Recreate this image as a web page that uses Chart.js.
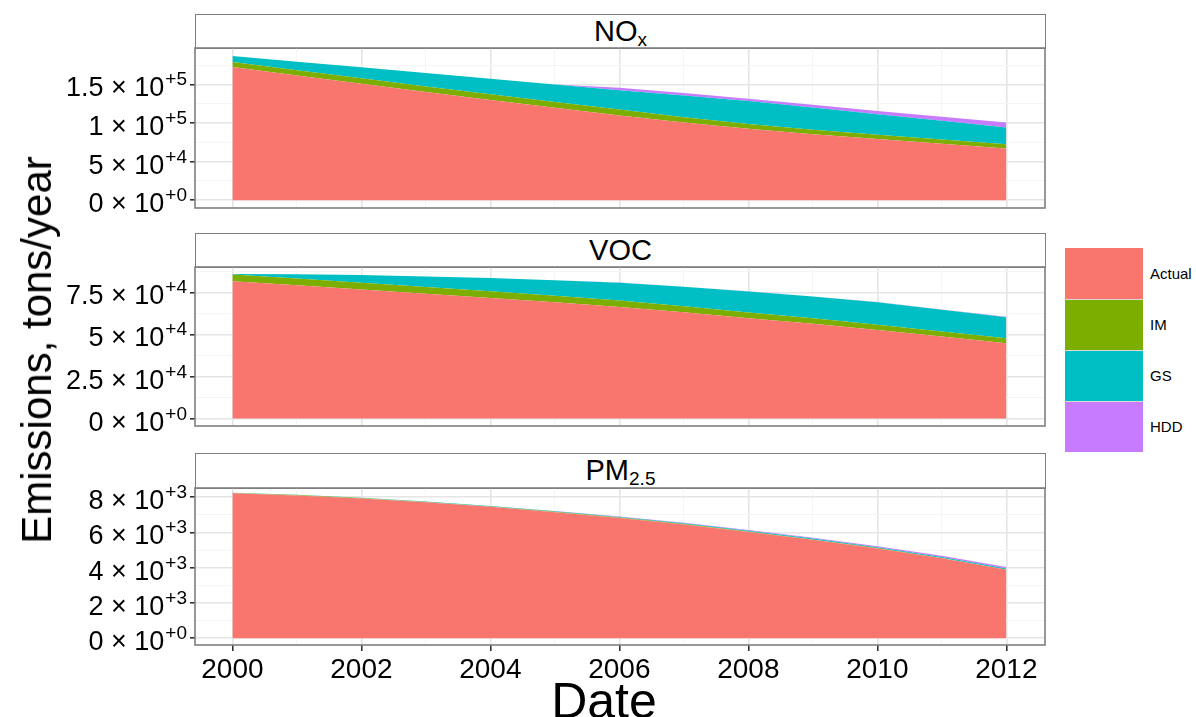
<!DOCTYPE html>
<html>
<head>
<meta charset="utf-8">
<script src="https://cdn.jsdelivr.net/npm/chart.js@4/dist/chart.umd.min.js"></script>
<style>
  html, body { margin:0; padding:0; background:#fff; }
  body { width:1196px; height:717px; position:relative; overflow:hidden; font-family:"Liberation Sans", Arial, sans-serif; }
  .wrap { position:absolute; left:0; }
  .strip { position:absolute; left:195px; width:851px; box-sizing:border-box; border:1.6px solid #7f7f7f; background:#fff;
           text-align:center; font-size:29px; color:#000; }
  .strip sub { font-size:19px; vertical-align:-5px; }
  #ytitle { position:absolute; left:37px; top:350px; transform:translate(-50%,-50%) rotate(-90deg); font-size:42px; white-space:nowrap; color:#000; }
  #xtitle { position:absolute; left:604px; top:676px; transform:translateX(-50%); font-size:50px; line-height:1; color:#000; }
  .key { position:absolute; left:1065px; width:78px; height:51px; }
  .klab { position:absolute; left:1150px; font-size:15px; color:#000; line-height:51px; height:51px; }
</style>
</head>
<body>
<div class="strip" style="top:14px;height:35px;line-height:32px;">NO<sub>x</sub></div>
<div class="strip" style="top:233px;height:35px;line-height:32px;">VOC</div>
<div class="strip" style="top:453px;height:36px;line-height:32px;">PM<sub>2.5</sub></div>

<div class="wrap" style="top:40px;"><canvas id="c1" width="1050" height="176"></canvas></div>
<div class="wrap" style="top:259px;"><canvas id="c2" width="1050" height="175"></canvas></div>
<div class="wrap" style="top:480px;"><canvas id="c3" width="1050" height="237"></canvas></div>

<div id="ytitle">Emissions, tons/year</div>
<div id="xtitle">Date</div>
<div id="legend"></div>

<script>
// ---------------- data ----------------
const years = [2000, 2001, 2002, 2003, 2004, 2005, 2006, 2007, 2008, 2009, 2010, 2011, 2012];
const seriesNames = ["Actual", "IM", "GS", "HDD"];
const seriesColors = ["#F8766D", "#7CAE00", "#00BFC4", "#C77CFF"];

const noxActual = [172600, 161700, 151000, 140300, 129800, 119600, 109600, 100500, 92400, 85500, 79300, 73000, 66800];
const noxIM     = [6500, 6700, 6900, 7100, 7300, 7500, 7800, 7000, 6200, 5800, 5600, 5600, 5700];
const noxGS     = [7800, 11100, 14200, 17300, 20200, 22800, 25100, 28100, 29800, 28700, 26500, 24200, 21500];
const noxHDD    = [0, 0, 0, 0, 0, 0, 3300, 3200, 3100, 3600, 4200, 5300, 6500];

const vocActual = [81600, 79300, 76800, 74200, 71700, 69100, 66400, 63200, 59700, 56300, 52700, 48800, 44800];
const vocIM     = [4000, 4000, 4000, 4000, 4000, 3900, 3800, 3600, 3400, 3300, 3100, 3000, 2900];
const vocGS     = [300, 2500, 4500, 6300, 7800, 9200, 10600, 11500, 12400, 12900, 13300, 12900, 12600];
const vocHDD    = [0, 0, 0, 0, 0, 50, 80, 100, 120, 140, 160, 180, 200];

const pmActual  = [8220, 8100, 7930, 7710, 7450, 7150, 6820, 6450, 6030, 5580, 5090, 4530, 3880];
const pmIM      = [20, 20, 20, 20, 20, 20, 20, 20, 20, 20, 20, 20, 20];
const pmGS      = [10, 15, 20, 25, 30, 35, 40, 45, 50, 50, 50, 50, 50];
const pmHDD     = [0, 0, 0, 0, 5, 10, 20, 30, 40, 50, 60, 70, 80];

const xMajorTicks = [2000, 2002, 2004, 2006, 2008, 2010, 2012];
const xTickLabels = ["2000", "2002", "2004", "2006", "2008", "2010", "2012"];
const xMinorTicks = [2001, 2003, 2005, 2007, 2009, 2011];

const noxMajorTicks = [0, 50000, 100000, 150000];
const noxMinorTicks = [25000, 75000, 125000, 175000];
const noxTickLabels = ["0 × 10^+0", "5 × 10^+4", "1 × 10^+5", "1.5 × 10^+5"];

const vocMajorTicks = [0, 25000, 50000, 75000];
const vocMinorTicks = [12500, 37500, 62500, 87500];
const vocTickLabels = ["0 × 10^+0", "2.5 × 10^+4", "5 × 10^+4", "7.5 × 10^+4"];

const pmMajorTicks = [0, 2000, 4000, 6000, 8000];
const pmMinorTicks = [1000, 3000, 5000, 7000];
const pmTickLabels = ["0 × 10^+0", "2 × 10^+3", "4 × 10^+3", "6 × 10^+3", "8 × 10^+3"];

// ---------------- styling ----------------
const FONT = '"Liberation Sans", Arial, sans-serif';
Chart.defaults.font.family = FONT;
const MAJOR_GRID = '#E5E5E5', MINOR_GRID = '#F5F5F5';

// legend (HTML)
const legend = document.getElementById('legend');
seriesNames.forEach((n, i) => {
  const top = 248 + i * 51;
  const k = document.createElement('div');
  k.className = 'key'; k.style.top = top + 'px'; k.style.background = seriesColors[i];
  if (i > 0) k.style.borderTop = '1px solid #d9d9d9';
  k.style.boxSizing = 'border-box';
  legend.appendChild(k);
  const l = document.createElement('div');
  l.className = 'klab'; l.style.top = top + 'px'; l.textContent = n;
  legend.appendChild(l);
});

const panelDecor = {
  id: 'panelDecor',
  afterDraw(chart, args, opts) {
    const { ctx, chartArea: a } = chart;
    const y = chart.scales.y;
    ctx.save();
    ctx.strokeStyle = '#7f7f7f';
    ctx.lineWidth = 1.6;
    ctx.strokeRect(a.left, a.top, a.right - a.left, a.bottom - a.top);
    const big = 27, small = 19;
    const xr = a.left - 8;
    ctx.fillStyle = '#000';
    ctx.textAlign = 'right';
    ctx.textBaseline = 'alphabetic';
    opts.ticks.forEach((v, i) => {
      const [mant, exp] = opts.labels[i].split('^');
      const py = y.getPixelForValue(v);
      ctx.font = small + 'px ' + FONT;
      const ew = ctx.measureText(exp).width;
      ctx.fillText(exp, xr, py + 1);
      ctx.font = big + 'px ' + FONT;
      ctx.fillText(mant, xr - ew - 1, py + 12);
    });
    ctx.restore();
  }
};

function makePanel(id, data, yMin, yMax, majors, minors, labels, showX, plotTop, plotH, canvasH) {
  const datasets = data.map((vals, i) => ({
    label: seriesNames[i],
    data: years.map((yr, j) => ({ x: yr, y: vals[j] })),
    backgroundColor: seriesColors[i],
    borderColor: 'rgba(0,0,0,0)',
    borderWidth: 0,
    pointRadius: 0,
    pointHoverRadius: 0,
    tension: 0,
    fill: i === 0 ? 'origin' : '-1'
  }));
  const allX = [...xMajorTicks, ...xMinorTicks].sort((a, b) => a - b);
  const allY = [...majors, ...minors].sort((a, b) => a - b);
  return new Chart(document.getElementById(id), {
    type: 'line',
    data: { datasets },
    plugins: [panelDecor],
    options: {
      responsive: false,
      animation: false,
      devicePixelRatio: 1,
      layout: { padding: { left: 0, right: 5, top: plotTop, bottom: 0 } },
      plugins: {
        legend: { display: false },
        tooltip: { enabled: false },
        panelDecor: { ticks: majors, labels: labels }
      },
      scales: {
        x: {
          type: 'linear', min: 1999.42, max: 2012.6,
          afterBuildTicks: s => { s.ticks = allX.map(v => ({ value: v })); },
          afterFit: s => { s.height = canvasH - plotTop - plotH; },
          border: { display: false },
          grid: {
            color: c => xMajorTicks.includes(c.tick && c.tick.value) ? MAJOR_GRID : MINOR_GRID,
            lineWidth: c => xMajorTicks.includes(c.tick && c.tick.value) ? 1.6 : 1,
            drawTicks: showX,
            tickLength: 6,
            tickColor: c => xMajorTicks.includes(c.tick && c.tick.value) ? '#333333' : 'rgba(0,0,0,0)',
            tickWidth: 1.6
          },
          ticks: {
            display: showX,
            autoSkip: false, maxRotation: 0, minRotation: 0,
            color: '#000',
            font: { size: 28 },
            padding: 2,
            callback: v => { const k = xMajorTicks.indexOf(v); return k >= 0 ? xTickLabels[k] : ''; }
          }
        },
        y: {
          stacked: true, min: yMin, max: yMax,
          afterBuildTicks: s => { s.ticks = allY.map(v => ({ value: v })); },
          afterFit: s => { s.width = 195; },
          border: { display: false },
          grid: {
            color: c => majors.includes(c.tick && c.tick.value) ? MAJOR_GRID : MINOR_GRID,
            lineWidth: c => majors.includes(c.tick && c.tick.value) ? 1.6 : 1,
            drawTicks: true,
            tickLength: 5,
            tickColor: c => majors.includes(c.tick && c.tick.value) ? '#333333' : 'rgba(0,0,0,0)',
            tickWidth: 1.6
          },
          ticks: { display: false }
        }
      }
    }
  });
}

makePanel('c1', [noxActual, noxIM, noxGS, noxHDD], -10200, 197200, noxMajorTicks, noxMinorTicks, noxTickLabels, false, 8, 160, 176);
makePanel('c2', [vocActual, vocIM, vocGS, vocHDD], -4400, 90100, vocMajorTicks, vocMinorTicks, vocTickLabels, false, 8, 159, 175);
makePanel('c3', [pmActual, pmIM, pmGS, pmHDD], -390, 8520, pmMajorTicks, pmMinorTicks, pmTickLabels, true, 8, 157, 237);
</script>
</body>
</html>
